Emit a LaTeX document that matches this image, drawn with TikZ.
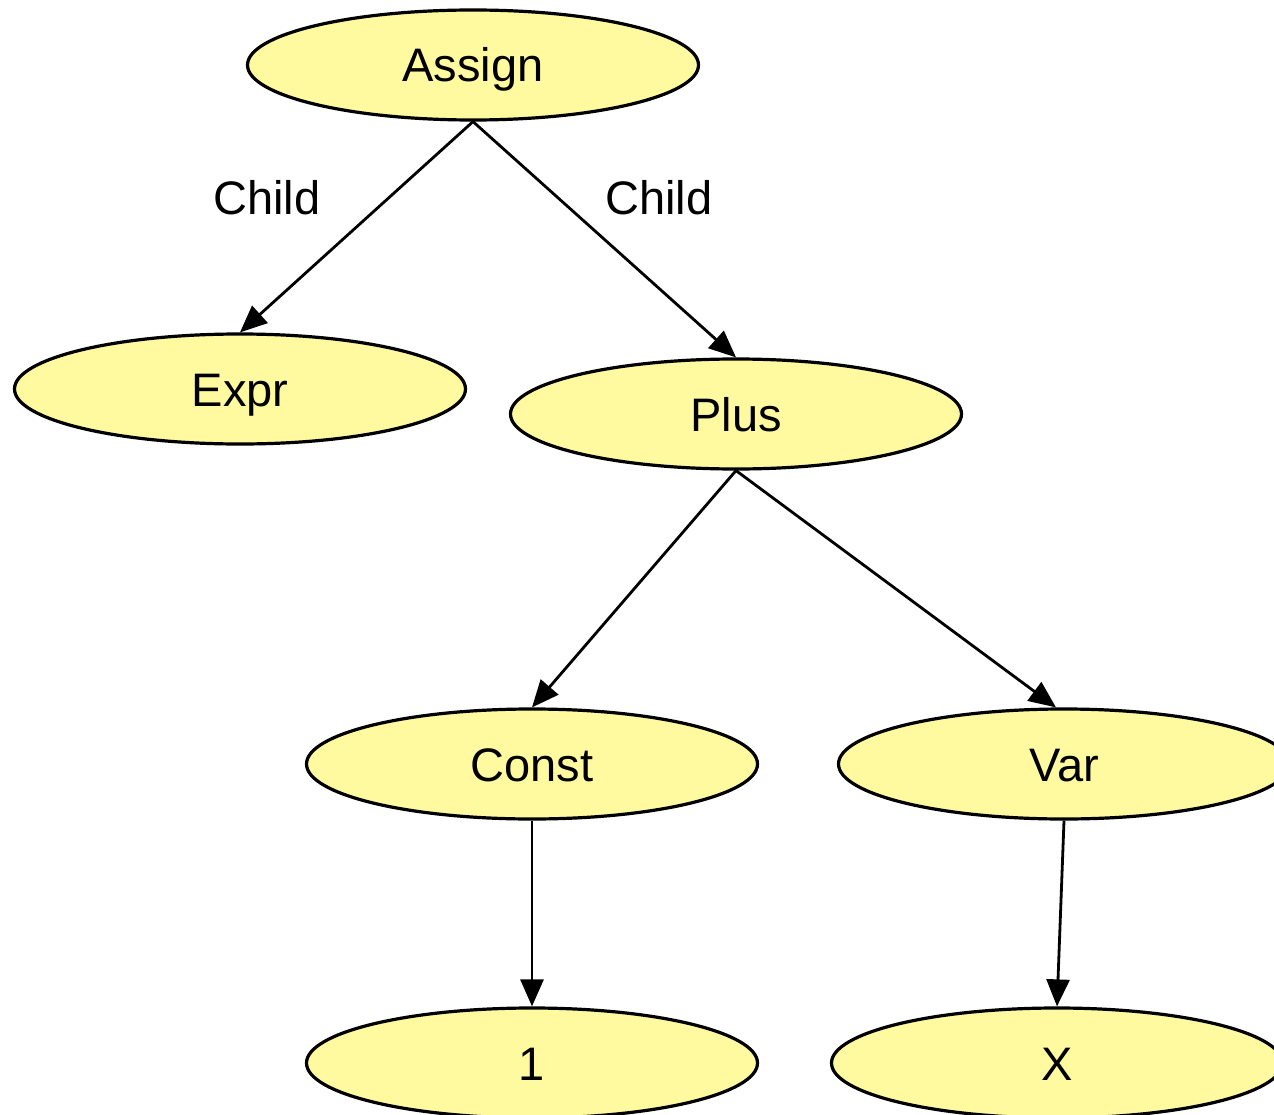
\documentclass[tikz,border=0pt]{standalone}
\usepackage{fontspec}
\setmainfont{Liberation Sans}
\usetikzlibrary{shapes.geometric,arrows.meta}
\definecolor{nodefill}{RGB}{255,250,160}
\begin{document}
\begin{tikzpicture}[x=1pt,y=-1pt,
  treenode/.style={ellipse,draw=black,fill=nodefill,line width=3.2pt,
    minimum width=451pt,minimum height=110pt,inner sep=0pt,
    font=\fontsize{47}{56}\selectfont,text height=34pt,text depth=0pt},
  edgelabel/.style={font=\fontsize{47}{56}\selectfont,text height=34pt,text depth=0pt,inner sep=0pt},
  link/.style={line width=2.8pt,-{Triangle[length=27pt,width=23pt]}}]
\clip (0,0) rectangle (1274,1115);
\fill[white] (0,0) rectangle (1274,1115);

\node[treenode] (assign) at (473,65) {Assign};
\node[treenode] (expr)   at (240,389) {Expr};
\node[treenode] (plus)   at (736,414) {Plus};
\node[treenode] (const)  at (532,764) {Const};
\node[treenode] (var)    at (1064,764) {Var};
\node[treenode] (one)    at (532,1063) {1};
\node[treenode] (x)      at (1057,1063) {X};

\node[edgelabel] (lab1) at (267,198) {Child};
\node[edgelabel] (lab2) at (659,198) {Child};

\draw[link] (assign.south) -- (expr.north);
\draw[link] (assign.south) -- (plus.north);
\draw[link] (plus.south) -- (const.north);
\draw[link] (plus.south) -- ([xshift=-8pt]var.north);
\draw[link] (const.south) -- (one.north);
\draw[link] (var.south) -- (x.north);
\end{tikzpicture}
\end{document}
